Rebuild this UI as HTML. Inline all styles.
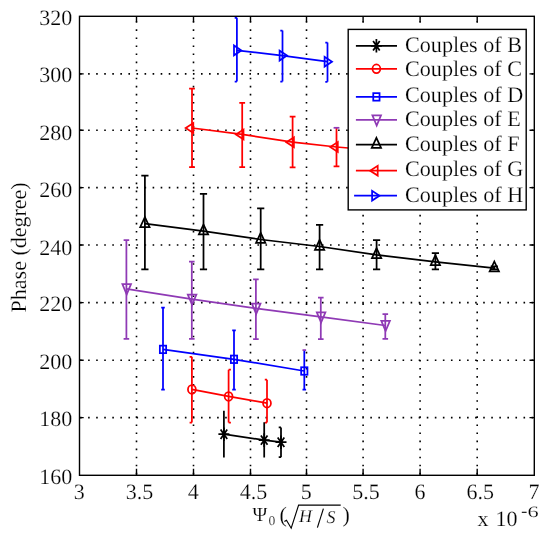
<!DOCTYPE html>
<html><head><meta charset="utf-8"><style>html,body{margin:0;padding:0;background:#fff;}svg{display:block;filter:blur(0.3px);}</style></head>
<body>
<svg width="550" height="539" viewBox="0 0 550 539">
<rect width="550" height="539" fill="#fff"/>
<path d="M136.5 474.40V16.3M193.5 474.40V16.3M250.5 474.40V16.3M306.5 474.40V16.3M363.1 474.40V16.3M420.1 474.40V16.3M477.2 474.40V16.3M80.04 73.9H534.3M80.04 130.2H534.3M80.04 187.6H534.3M80.04 245.0H534.3M80.04 302.6H534.3M80.04 360.2H534.3M80.04 417.6H534.3" stroke="#000" stroke-width="1.6" stroke-dasharray="1.6 6.463" fill="none"/>
<path d="M236.9 17.8V81.5M234.70 81.5H236.90M234.70 17.8H236.90M282.5 30.6V81.5M280.30 81.5H282.50M280.30 30.6H282.50M327.5 42.5V81.8M325.30 81.8H327.50M325.30 42.5H327.50" stroke="#0000ff" stroke-width="1.75" fill="none"/>
<polyline points="236.9,50.4 282.5,55.6 327.5,61.7" stroke="#0000ff" stroke-width="1.75" fill="none" stroke-linejoin="round"/>
<path d="M241.40 50.40 L234.00 45.50 L234.00 55.30Z" fill="none" stroke="#0000ff" stroke-width="1.75" stroke-linejoin="miter"/>
<path d="M287.00 55.60 L279.60 50.70 L279.60 60.50Z" fill="none" stroke="#0000ff" stroke-width="1.75" stroke-linejoin="miter"/>
<path d="M332.00 61.70 L324.60 56.80 L324.60 66.60Z" fill="none" stroke="#0000ff" stroke-width="1.75" stroke-linejoin="miter"/>
<path d="M192 88.7V167.2M189.10 167.2H194.90M189.10 88.7H194.90M242.2 102.9V167.2M239.30 167.2H245.10M239.30 102.9H245.10M292.6 116.6V167.3M289.70 167.3H295.50M289.70 116.6H295.50M336.5 127.8V166.4M333.60 166.4H339.40" stroke="#ff0000" stroke-width="1.75" fill="none"/>
<path d="M333.60 127.8H339.40" stroke="#8f3ab5" stroke-width="1.75"/>
<polyline points="192,128 242.2,134.4 292.6,142.2 336.5,147 390,151.5" stroke="#ff0000" stroke-width="1.75" fill="none" stroke-linejoin="round"/>
<path d="M185.70 128.00 L193.30 123.10 L193.30 132.90Z" fill="none" stroke="#ff0000" stroke-width="1.75" stroke-linejoin="miter"/>
<path d="M235.90 134.40 L243.50 129.50 L243.50 139.30Z" fill="none" stroke="#ff0000" stroke-width="1.75" stroke-linejoin="miter"/>
<path d="M286.30 142.20 L293.90 137.30 L293.90 147.10Z" fill="none" stroke="#ff0000" stroke-width="1.75" stroke-linejoin="miter"/>
<path d="M330.20 147.00 L337.80 142.10 L337.80 151.90Z" fill="none" stroke="#ff0000" stroke-width="1.75" stroke-linejoin="miter"/>
<path d="M144.9 175.5V269.3M141.30 269.3H148.50M141.30 175.5H148.50M203.5 193.9V269.3M199.90 269.3H207.10M199.90 193.9H207.10M260.7 208.3V269.4M257.10 269.4H264.30M257.10 208.3H264.30M319.6 224.9V269.4M316.00 269.4H323.20M316.00 224.9H323.20M376.6 240.0V269.4M373.00 269.4H380.20M373.00 240.0H380.20M435.4 253.0V269.4M431.80 269.4H439.00M431.80 253.0H439.00M494.3 266.3V269.4M490.70 269.4H497.90M490.70 266.3H497.90" stroke="#000000" stroke-width="1.75" fill="none"/>
<polyline points="144.9,223.7 203.5,231.1 260.7,239.5 319.6,246.5 376.6,254.8 435.4,261.8 494.3,268.1" stroke="#000000" stroke-width="1.75" fill="none" stroke-linejoin="round"/>
<path d="M144.90 217.10 L140.25 227.00 L149.55 227.00Z" fill="none" stroke="#000000" stroke-width="1.75" stroke-linejoin="miter"/>
<path d="M203.50 224.50 L198.85 234.40 L208.15 234.40Z" fill="none" stroke="#000000" stroke-width="1.75" stroke-linejoin="miter"/>
<path d="M260.70 232.90 L256.05 242.80 L265.35 242.80Z" fill="none" stroke="#000000" stroke-width="1.75" stroke-linejoin="miter"/>
<path d="M319.60 239.90 L314.95 249.80 L324.25 249.80Z" fill="none" stroke="#000000" stroke-width="1.75" stroke-linejoin="miter"/>
<path d="M376.60 248.20 L371.95 258.10 L381.25 258.10Z" fill="none" stroke="#000000" stroke-width="1.75" stroke-linejoin="miter"/>
<path d="M435.40 255.20 L430.75 265.10 L440.05 265.10Z" fill="none" stroke="#000000" stroke-width="1.75" stroke-linejoin="miter"/>
<path d="M494.30 261.50 L489.65 271.40 L498.95 271.40Z" fill="none" stroke="#000000" stroke-width="1.75" stroke-linejoin="miter"/>
<path d="M126.4 240V338.9M123.60 338.9H129.20M123.60 240H129.20M191.8 261.5V338.8M189.00 338.8H194.60M189.00 261.5H194.60M255.9 279.4V339M253.10 339H258.70M253.10 279.4H258.70M320.8 297.7V339M318.00 339H323.60M318.00 297.7H323.60M385.3 314V338.8M382.50 338.8H388.10M382.50 314H388.10" stroke="#8f3ab5" stroke-width="1.75" fill="none"/>
<polyline points="126.4,288.8 191.8,299.2 255.9,308.3 320.8,316.9 385.3,325.5" stroke="#8f3ab5" stroke-width="1.75" fill="none" stroke-linejoin="round"/>
<path d="M122.40 284.20 L131.00 284.20 L126.70 294.40Z" fill="none" stroke="#8f3ab5" stroke-width="1.75" stroke-linejoin="miter"/>
<path d="M187.80 294.60 L196.40 294.60 L192.10 304.80Z" fill="none" stroke="#8f3ab5" stroke-width="1.75" stroke-linejoin="miter"/>
<path d="M251.90 303.70 L260.50 303.70 L256.20 313.90Z" fill="none" stroke="#8f3ab5" stroke-width="1.75" stroke-linejoin="miter"/>
<path d="M316.80 312.30 L325.40 312.30 L321.10 322.50Z" fill="none" stroke="#8f3ab5" stroke-width="1.75" stroke-linejoin="miter"/>
<path d="M381.30 320.90 L389.90 320.90 L385.60 331.10Z" fill="none" stroke="#8f3ab5" stroke-width="1.75" stroke-linejoin="miter"/>
<path d="M163 307.6V389.6M161.20 389.6H164.80M161.20 307.6H164.80M234 330.3V389.6M232.20 389.6H235.80M232.20 330.3H235.80M304.3 350.1V389.7M302.50 389.7H306.10" stroke="#0000ff" stroke-width="1.75" fill="none"/>
<path d="M302.50 350.1H306.10" stroke="#8f3ab5" stroke-width="1.75"/>
<polyline points="163,349.4 234,359.3 304.3,371" stroke="#0000ff" stroke-width="1.75" fill="none" stroke-linejoin="round"/>
<rect x="159.85" y="345.65" width="6.3" height="7.5" fill="none" stroke="#0000ff" stroke-width="1.75"/>
<rect x="230.85" y="355.55" width="6.3" height="7.5" fill="none" stroke="#0000ff" stroke-width="1.75"/>
<rect x="301.15" y="367.25" width="6.3" height="7.5" fill="none" stroke="#0000ff" stroke-width="1.75"/>
<path d="M191.9 356.8V422.6M189.60 422.6H191.90M189.60 356.8H191.90M228.6 369.7V422.6M228.60 422.6H230.90M228.60 369.7H230.90M267.0 379.7V422.6M264.80 422.6H267.00M264.80 379.7H267.00" stroke="#ff0000" stroke-width="1.75" fill="none"/>
<polyline points="191.9,389.4 228.6,396.4 267.0,403.2" stroke="#ff0000" stroke-width="1.75" fill="none" stroke-linejoin="round"/>
<ellipse cx="191.90" cy="389.40" rx="3.95" ry="4.35" fill="none" stroke="#ff0000" stroke-width="1.75"/>
<ellipse cx="228.60" cy="396.40" rx="3.95" ry="4.35" fill="none" stroke="#ff0000" stroke-width="1.75"/>
<ellipse cx="267.00" cy="403.20" rx="3.95" ry="4.35" fill="none" stroke="#ff0000" stroke-width="1.75"/>
<path d="M223.9 410.8V457.4M264.2 422.3V457.4M281.0 427.4V457.2M278.70 457.2H281.00M278.70 427.4H281.00" stroke="#000000" stroke-width="1.75" fill="none"/>
<polyline points="223.9,434.2 264.2,440.1 281.0,442.2" stroke="#000000" stroke-width="1.75" fill="none" stroke-linejoin="round"/>
<path d="M218.40 434.20H229.40M223.90 427.40V441.00M220.60 429.50L227.20 438.90M220.60 438.90L227.20 429.50" stroke="#000000" stroke-width="1.75" fill="none"/>
<path d="M258.70 440.10H269.70M264.20 433.30V446.90M260.90 435.40L267.50 444.80M260.90 444.80L267.50 435.40" stroke="#000000" stroke-width="1.75" fill="none"/>
<path d="M275.50 442.20H286.50M281.00 435.40V449.00M277.70 437.50L284.30 446.90M277.70 446.90L284.30 437.50" stroke="#000000" stroke-width="1.75" fill="none"/>
<path d="M136.5 475.3V468.8M136.5 16.3V22.1M193.5 475.3V468.8M193.5 16.3V22.1M250.5 475.3V468.8M250.5 16.3V22.1M306.5 475.3V468.8M306.5 16.3V22.1M363.1 475.3V468.8M363.1 16.3V22.1M420.1 475.3V468.8M420.1 16.3V22.1M477.2 475.3V468.8M477.2 16.3V22.1M79.5 73.9H83.7M534.3 73.9H529.5M79.5 130.2H83.7M534.3 130.2H529.5M79.5 187.6H83.7M534.3 187.6H529.5M79.5 245.0H83.7M534.3 245.0H529.5M79.5 302.6H83.7M534.3 302.6H529.5M79.5 360.2H83.7M534.3 360.2H529.5M79.5 417.6H83.7M534.3 417.6H529.5" stroke="#000" stroke-width="1.4" fill="none"/>
<rect x="79.5" y="16.3" width="454.80" height="459.00" fill="none" stroke="#000" stroke-width="1.4"/>
<rect x="348.2" y="29.4" width="178.00" height="180.50" fill="#fff" stroke="#000" stroke-width="1.4"/>
<path d="M355.9 45.8H397" stroke="#000000" stroke-width="1.75"/>
<path d="M370.90 45.80H381.90M376.40 39.00V52.60M373.10 41.10L379.70 50.50M373.10 50.50L379.70 41.10" stroke="#000000" stroke-width="1.75" fill="none"/>
<text x="404.9" y="51.7" font-family="Liberation Serif, serif" text-rendering="geometricPrecision" stroke="#fff" stroke-width="0.2" font-size="22.2" fill="#000">Couples of B</text>
<path d="M355.9 68.8H397" stroke="#ff0000" stroke-width="1.75"/>
<ellipse cx="376.40" cy="68.80" rx="3.95" ry="4.35" fill="none" stroke="#ff0000" stroke-width="1.75"/>
<text x="404.9" y="76.0" font-family="Liberation Serif, serif" text-rendering="geometricPrecision" stroke="#fff" stroke-width="0.2" font-size="22.2" fill="#000">Couples of C</text>
<path d="M355.9 96.9H397" stroke="#0000ff" stroke-width="1.75"/>
<rect x="373.25" y="93.15" width="6.3" height="7.5" fill="none" stroke="#0000ff" stroke-width="1.75"/>
<text x="404.9" y="101.8" font-family="Liberation Serif, serif" text-rendering="geometricPrecision" stroke="#fff" stroke-width="0.2" font-size="22.2" fill="#000">Couples of D</text>
<path d="M355.9 119.9H397" stroke="#8f3ab5" stroke-width="1.75"/>
<path d="M372.40 115.30 L381.00 115.30 L376.70 125.50Z" fill="none" stroke="#8f3ab5" stroke-width="1.75" stroke-linejoin="miter"/>
<text x="404.9" y="125.6" font-family="Liberation Serif, serif" text-rendering="geometricPrecision" stroke="#fff" stroke-width="0.2" font-size="22.2" fill="#000">Couples of E</text>
<path d="M355.9 144.5H397" stroke="#000000" stroke-width="1.75"/>
<path d="M376.40 137.90 L371.75 147.80 L381.05 147.80Z" fill="none" stroke="#000000" stroke-width="1.75" stroke-linejoin="miter"/>
<text x="404.9" y="150.6" font-family="Liberation Serif, serif" text-rendering="geometricPrecision" stroke="#fff" stroke-width="0.2" font-size="22.2" fill="#000">Couples of F</text>
<path d="M355.9 170.7H397" stroke="#ff0000" stroke-width="1.75"/>
<path d="M370.10 170.70 L377.70 165.80 L377.70 175.60Z" fill="none" stroke="#ff0000" stroke-width="1.75" stroke-linejoin="miter"/>
<text x="404.9" y="176.0" font-family="Liberation Serif, serif" text-rendering="geometricPrecision" stroke="#fff" stroke-width="0.2" font-size="22.2" fill="#000">Couples of G</text>
<path d="M354.1 195.7H397" stroke="#0000ff" stroke-width="1.75"/>
<path d="M379.50 195.70 L372.10 190.80 L372.10 200.60Z" fill="none" stroke="#0000ff" stroke-width="1.75" stroke-linejoin="miter"/>
<text x="404.9" y="201.5" font-family="Liberation Serif, serif" text-rendering="geometricPrecision" stroke="#fff" stroke-width="0.2" font-size="22.2" fill="#000">Couples of H</text>
<text x="72.2" y="24.50" font-family="Liberation Serif, serif" text-rendering="geometricPrecision" stroke="#fff" stroke-width="0.2" font-size="22" text-anchor="end">320</text>
<text x="72.2" y="82.20" font-family="Liberation Serif, serif" text-rendering="geometricPrecision" stroke="#fff" stroke-width="0.2" font-size="22" text-anchor="end">300</text>
<text x="72.2" y="139.90" font-family="Liberation Serif, serif" text-rendering="geometricPrecision" stroke="#fff" stroke-width="0.2" font-size="22" text-anchor="end">280</text>
<text x="72.2" y="197.20" font-family="Liberation Serif, serif" text-rendering="geometricPrecision" stroke="#fff" stroke-width="0.2" font-size="22" text-anchor="end">260</text>
<text x="72.2" y="254.50" font-family="Liberation Serif, serif" text-rendering="geometricPrecision" stroke="#fff" stroke-width="0.2" font-size="22" text-anchor="end">240</text>
<text x="72.2" y="311.40" font-family="Liberation Serif, serif" text-rendering="geometricPrecision" stroke="#fff" stroke-width="0.2" font-size="22" text-anchor="end">220</text>
<text x="72.2" y="368.70" font-family="Liberation Serif, serif" text-rendering="geometricPrecision" stroke="#fff" stroke-width="0.2" font-size="22" text-anchor="end">200</text>
<text x="72.2" y="426.40" font-family="Liberation Serif, serif" text-rendering="geometricPrecision" stroke="#fff" stroke-width="0.2" font-size="22" text-anchor="end">180</text>
<text x="72.2" y="484.00" font-family="Liberation Serif, serif" text-rendering="geometricPrecision" stroke="#fff" stroke-width="0.2" font-size="22" text-anchor="end">160</text>
<text x="79.30" y="498.9" font-family="Liberation Serif, serif" text-rendering="geometricPrecision" stroke="#fff" stroke-width="0.2" font-size="22" text-anchor="middle">3</text>
<text x="139.50" y="498.9" font-family="Liberation Serif, serif" text-rendering="geometricPrecision" stroke="#fff" stroke-width="0.2" font-size="22" text-anchor="middle">3.5</text>
<text x="193.30" y="498.9" font-family="Liberation Serif, serif" text-rendering="geometricPrecision" stroke="#fff" stroke-width="0.2" font-size="22" text-anchor="middle">4</text>
<text x="253.50" y="498.9" font-family="Liberation Serif, serif" text-rendering="geometricPrecision" stroke="#fff" stroke-width="0.2" font-size="22" text-anchor="middle">4.5</text>
<text x="306.30" y="498.9" font-family="Liberation Serif, serif" text-rendering="geometricPrecision" stroke="#fff" stroke-width="0.2" font-size="22" text-anchor="middle">5</text>
<text x="366.10" y="498.9" font-family="Liberation Serif, serif" text-rendering="geometricPrecision" stroke="#fff" stroke-width="0.2" font-size="22" text-anchor="middle">5.5</text>
<text x="419.90" y="498.9" font-family="Liberation Serif, serif" text-rendering="geometricPrecision" stroke="#fff" stroke-width="0.2" font-size="22" text-anchor="middle">6</text>
<text x="480.20" y="498.9" font-family="Liberation Serif, serif" text-rendering="geometricPrecision" stroke="#fff" stroke-width="0.2" font-size="22" text-anchor="middle">6.5</text>
<text x="534.10" y="498.9" font-family="Liberation Serif, serif" text-rendering="geometricPrecision" stroke="#fff" stroke-width="0.2" font-size="22" text-anchor="middle">7</text>
<text transform="translate(26.3 312.4) rotate(-90)" font-family="Liberation Serif, serif" text-rendering="geometricPrecision" stroke="#fff" stroke-width="0.2" font-size="22">Phase (degree)</text>
<text x="477.6" y="525.8" font-family="Liberation Serif, serif" text-rendering="geometricPrecision" stroke="#fff" stroke-width="0.2" font-size="22">x</text>
<text x="495.6" y="525.8" font-family="Liberation Serif, serif" text-rendering="geometricPrecision" stroke="#fff" stroke-width="0.2" font-size="22">10</text>
<path d="M521.8 512.3H526.6" stroke="#000" stroke-width="1.1"/>
<text transform="translate(527.6 517.3) scale(1.42 1)" font-family="Liberation Serif, serif" text-rendering="geometricPrecision" stroke="#fff" stroke-width="0.2" font-size="15.8">6</text>
<text x="252.6" y="521.3" font-family="Liberation Serif, serif" text-rendering="geometricPrecision" stroke="#fff" stroke-width="0.2" font-size="20">&#936;</text>
<text x="268.5" y="525.3" font-family="Liberation Serif, serif" text-rendering="geometricPrecision" stroke="#fff" stroke-width="0.2" font-size="13.6">0</text>
<text x="279.6" y="522" font-family="Liberation Serif, serif" text-rendering="geometricPrecision" stroke="#fff" stroke-width="0.2" font-size="22">(</text>
<path d="M284.4 521.6L286.5 520.2L291.2 528.2L298.6 505.1H340.7" stroke="#000" stroke-width="1.15" fill="none" stroke-linejoin="miter"/>
<text x="299.0" y="522.4" font-family="Liberation Serif, serif" text-rendering="geometricPrecision" stroke="#fff" stroke-width="0.2" font-size="18" font-style="italic">H</text>
<path d="M323.4 508.6L317.4 527.6" stroke="#000" stroke-width="1.15"/>
<text x="326.6" y="522.6" font-family="Liberation Serif, serif" text-rendering="geometricPrecision" stroke="#fff" stroke-width="0.2" font-size="18" font-style="italic">S</text>
<text x="342.5" y="522" font-family="Liberation Serif, serif" text-rendering="geometricPrecision" stroke="#fff" stroke-width="0.2" font-size="22">)</text>
</svg>
</body></html>
